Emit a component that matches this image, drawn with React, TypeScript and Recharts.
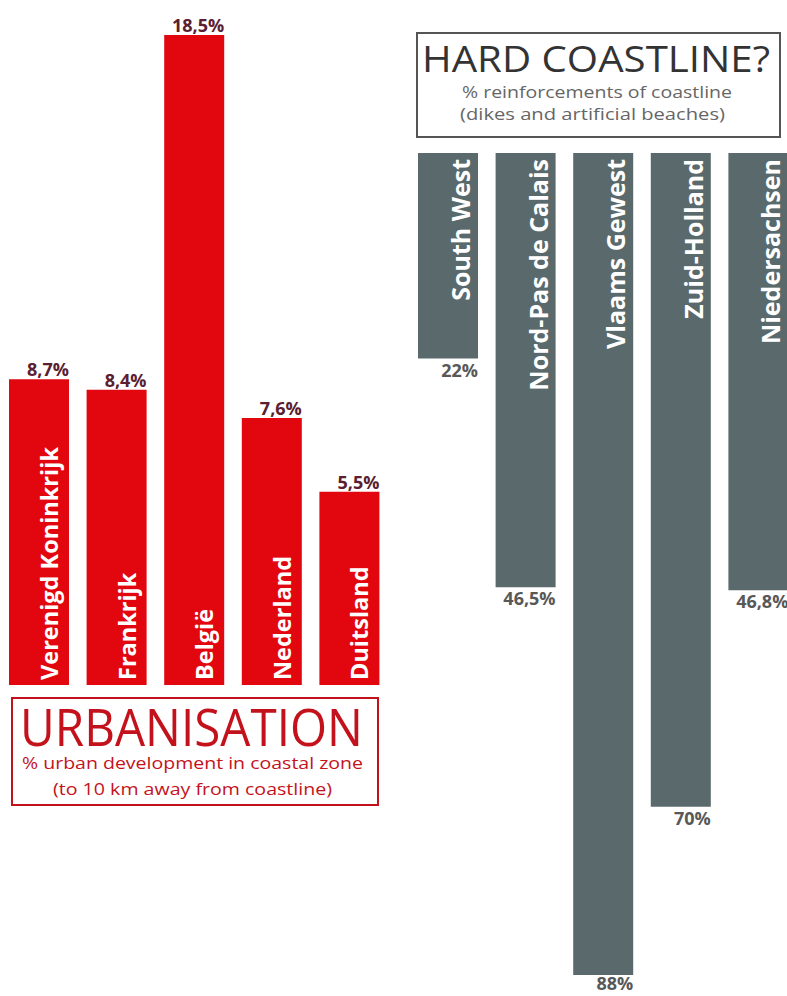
import { Bar, BarChart, LabelList, XAxis, YAxis } from 'recharts'

// urbanisation (left, red, bottom aligned)
const urbanCountries = ['Verenigd Koninkrijk', 'Frankrijk', 'België', 'Nederland', 'Duitsland']
const urbanValues = [8.7, 8.4, 18.5, 7.6, 5.5]

// hard coastline (right, grey, hanging from top)
const coastRegions = ['South West', 'Nord-Pas de Calais', 'Vlaams Gewest', 'Zuid-Holland', 'Niedersachsen']
const coastValues = [22, 46.5, 88, 70, 46.8]

const RED = '#e2060f'
const RED_DARK = '#c4121c'
const GREY = '#5a6a6c'
const FONT = '"Open Sans", "DejaVu Sans", sans-serif'

const fmt = (v: number) => `${String(v).replace('.', ',')}%`

const urbanData = urbanCountries.map((name, i) => ({ name, value: urbanValues[i] }))
const coastData = coastRegions.map((name, i) => ({ name, value: coastValues[i] }))

const UrbanValueLabel = (props: any) => {
  const { x, y, width, value } = props
  return (
    <text x={x + width} y={y - 3} textAnchor="end" fill="#5a2030" fontFamily={FONT} fontWeight={700} fontSize={18}>
      {fmt(value)}
    </text>
  )
}

const UrbanNameLabel = (props: any) => {
  const { x, y, width, height, value } = props
  const tx = x + width - 11
  const ty = y + height - 5
  return (
    <text x={tx} y={ty} transform={`rotate(-90, ${tx}, ${ty})`} textAnchor="start" fill="#fff" fontFamily={FONT} fontWeight={700} fontSize={23.5}>
      {value}
    </text>
  )
}

const CoastValueLabel = (props: any) => {
  const { x, y, width, height, value } = props
  const bottom = Math.max(y, y + height)
  const dy = bottom > 960 ? 15 : 18
  return (
    <text x={x + width} y={bottom + dy} textAnchor="end" fill="#585858" fontFamily={FONT} fontWeight={700} fontSize={18}>
      {fmt(value)}
    </text>
  )
}

const CoastNameLabel = (props: any) => {
  const { x, y, width, height, value } = props
  const top = Math.min(y, y + height)
  const tx = x + width - 8
  const ty = top + 6
  return (
    <text x={tx} y={ty} transform={`rotate(-90, ${tx}, ${ty})`} textAnchor="end" fill="#fff" fontFamily={FONT} fontWeight={700} fontSize={25}>
      {value}
    </text>
  )
}

export default function App() {
  return (
    <div style={{ position: 'absolute', left: 0, top: 0, width: 787, height: 996, overflow: 'hidden', background: '#fff' }}>
      <div style={{ position: 'absolute', left: 0, top: 0 }}>
        <BarChart width={388} height={700} data={urbanData} margin={{ top: 35, right: 0, bottom: 15, left: 0 }}>
          <XAxis dataKey="name" hide />
          <YAxis hide domain={[0, 18.5]} />
          <Bar dataKey="value" fill={RED} barSize={60} isAnimationActive={false}>
            <LabelList dataKey="value" content={UrbanValueLabel} />
            <LabelList dataKey="name" content={UrbanNameLabel} />
          </Bar>
        </BarChart>
      </div>

      <div style={{ position: 'absolute', left: 409, top: 0 }}>
        <BarChart width={388} height={996} data={coastData} margin={{ top: 153, right: 0, bottom: 21, left: 0 }}>
          <XAxis dataKey="name" hide />
          <YAxis hide domain={[0, 88]} reversed />
          <Bar dataKey="value" fill={GREY} barSize={60} isAnimationActive={false}>
            <LabelList dataKey="value" content={CoastValueLabel} />
            <LabelList dataKey="name" content={CoastNameLabel} />
          </Bar>
        </BarChart>
      </div>

      <svg width={787} height={996} style={{ position: 'absolute', left: 0, top: 0, pointerEvents: 'none' }}>
        <rect x={12} y={698} width={366} height={107} fill="none" stroke={RED_DARK} strokeWidth={2} />
        <text x={20} y={746} textLength={343} lengthAdjust="spacingAndGlyphs" fill={RED_DARK} fontFamily={FONT} fontSize={52}>
          URBANISATION
        </text>
        <text x={22} y={769} textLength={341} lengthAdjust="spacingAndGlyphs" fill={RED_DARK} fontFamily={FONT} fontSize={17}>
          % urban development in coastal zone
        </text>
        <text x={53} y={795} textLength={279} lengthAdjust="spacingAndGlyphs" fill={RED_DARK} fontFamily={FONT} fontSize={17}>
          (to 10 km away from coastline)
        </text>

        <rect x={417} y={33} width={363} height={104} fill="none" stroke="#555" strokeWidth={2} />
        <text x={422} y={72} textLength={348} lengthAdjust="spacingAndGlyphs" fill="#333" fontFamily={FONT} fontSize={37}>
          HARD COASTLINE?
        </text>
        <text x={462} y={98} textLength={270} lengthAdjust="spacingAndGlyphs" fill="#666" fontFamily={FONT} fontSize={16}>
          % reinforcements of coastline
        </text>
        <text x={460} y={120} textLength={265} lengthAdjust="spacingAndGlyphs" fill="#666" fontFamily={FONT} fontSize={17}>
          (dikes and artificial beaches)
        </text>
      </svg>
    </div>
  )
}
